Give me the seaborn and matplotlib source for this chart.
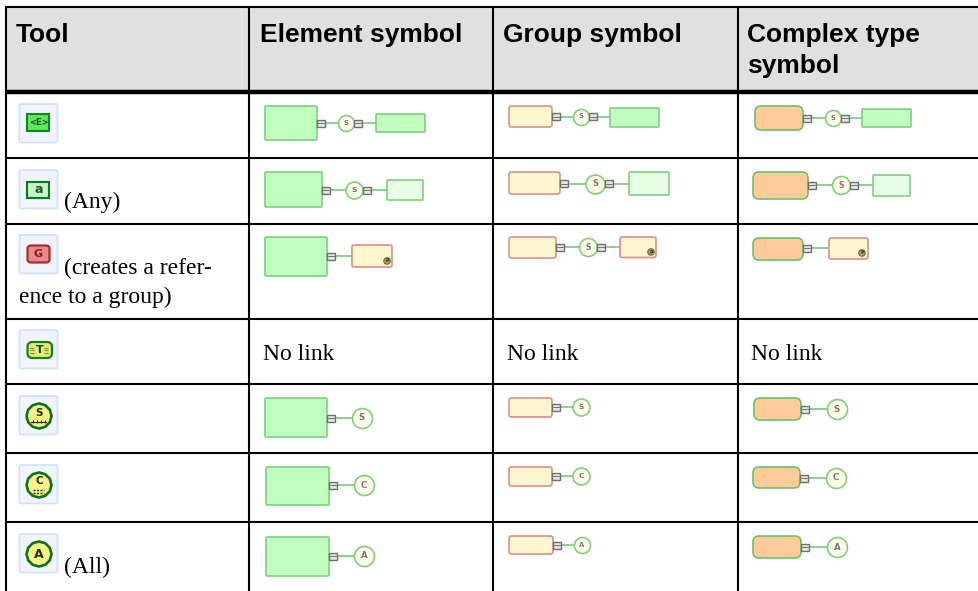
import matplotlib
matplotlib.use('Agg')
import matplotlib.pyplot as plt
from matplotlib.patches import FancyBboxPatch, Rectangle, RegularPolygon, Circle
import seaborn as sns

sns.set_theme(style='white')
plt.rcParams['font.family'] = ['Liberation Serif', 'DejaVu Sans']

# ----- table text -----
header_labels = ['Tool', 'Element symbol', 'Group symbol', 'Complex type\nsymbol']
tool_notes = ['', '(Any)', '(creates a refer-\nence to a group)', '', '', '', '(All)']
no_link_label = 'No link'

# ----- table grid -----
column_lines = [6, 249.5, 493.5, 738]
row_lines = [158, 223.5, 318.5, 384, 453, 522]
icon_tops = [104, 170, 235, 330, 396, 465, 534]

# ----- symbols: parent box, connector y, node, child box -----
# (x0, x1, y0, y1, conn_y, node_x, node_r, letter, child, dot)
element_symbols = [
    (265, 317, 106, 140, 123, 346, 8, 'S', (376, 425, 114, 132, 'solid'), None),
    (265, 322, 172, 207, 190, 354, 8.5, 'S', (387, 423, 180, 200, 'light'), None),
    (265, 327, 237, 276, 256, None, 0, '', (352, 392, 245, 267, 'group'), (387, 261)),
    None,
    (265, 327, 398, 437, 418, 362, 10, 'S', None, None),
    (266, 329, 467, 505, 485, 364, 10, 'C', None, None),
    (266, 329, 537, 576, 556, 364, 10, 'A', None, None),
]
group_symbols = [
    (509, 552, 106, 127, 116.5, 581, 8, 'S', (610, 659, 108, 127, 'solid'), None),
    (509, 560, 172, 194, 183.5, 595, 9.5, 'S', (629, 669, 172, 195, 'light'), None),
    (509, 556, 237, 258, 247, 588, 9, 'S', (620, 656, 237, 257.5, 'group'), (651, 252)),
    None,
    (509, 552, 398, 417, 407, 581, 8.5, 'S', None, None),
    (509, 552, 467, 486, 476, 581, 8.5, 'C', None, None),
    (509, 553, 536, 554, 545, 582, 8, 'A', None, None),
]
complex_symbols = [
    (755, 803, 106, 130, 118, 833, 8, 'S', (862, 911, 109, 127, 'solid'), None),
    (753, 808, 172, 199, 185, 841, 9, 'S', (873, 910, 175, 196, 'light'), None),
    (753, 803, 238, 260, 248, None, 0, '', (829, 868, 238, 259, 'group'), (862, 253)),
    None,
    (754, 801, 398, 420, 409, 837, 10, 'S', None, None),
    (753, 800, 467, 488, 478, 836, 10, 'C', None, None),
    (753, 801, 536, 558, 547, 837, 10, 'A', None, None),
]

GREEN_EDGE = '#7fd07f'
GREEN_FILL = '#c0ffc0'
LIGHT_FILL = '#e6ffe6'
RED_EDGE = '#dc8f88'
CREAM_FILL = '#fff7d0'
ORANGE_FILL = '#ffcc99'

fig = plt.figure(figsize=(9.79, 5.91), dpi=100)
ax = fig.add_axes([0, 0, 1, 1])
ax.set_xlim(0, 979)
ax.set_ylim(591, 0)
ax.axis('off')


def draw_box(x0, x1, y0, y1, face, edge, rounding=1.5, zorder=3):
    ax.add_patch(FancyBboxPatch((x0, y0), x1 - x0, y1 - y0,
                                boxstyle=f'round,pad=0,rounding_size={rounding}',
                                fc=face, ec=edge, lw=1.2, zorder=zorder))


def draw_square(cx, cy):
    ax.add_patch(Rectangle((cx - 4, cy - 3.5), 8, 7, fc='#e4e4e4', ec='#707070', lw=1.0, zorder=5))
    ax.plot([cx - 3, cx + 3], [cy, cy], color='#707070', lw=0.7, zorder=6)


def draw_symbol(sym, parent_face, parent_edge, rounding):
    if sym is None:
        return
    x0, x1, y0, y1, cy, nx, nr, letter, child, dot = sym
    end_x = child[0] if child else nx
    sns.lineplot(x=[x1, end_x], y=[cy, cy], color=GREEN_EDGE, lw=1.3, ax=ax,
                 estimator=None, sort=False, zorder=2, legend=False)
    draw_box(x0, x1, y0, y1, parent_face, parent_edge, rounding)
    draw_square(x1 + 4, cy)
    if nx is not None:
        # node size is in points squared, diameter comes from the pixel radius
        sns.scatterplot(x=[nx], y=[cy], s=(2 * nr * 0.72) ** 2, color='#fffbe8',
                        edgecolor=GREEN_EDGE, linewidth=1.2, ax=ax, zorder=4, legend=False)
        ax.text(nx, cy, letter, fontsize=nr * 0.62, family='DejaVu Sans', weight='bold',
                color='#777777', ha='center', va='center', zorder=6)
        if child:
            draw_square(nx + nr + 4.5, cy)
    if child:
        cx0, cx1, cy0, cy1, kind = child
        if kind == 'group':
            draw_box(cx0, cx1, cy0, cy1, CREAM_FILL, RED_EDGE, 2)
        else:
            draw_box(cx0, cx1, cy0, cy1, GREEN_FILL if kind == 'solid' else LIGHT_FILL, GREEN_EDGE, 0.8)
    if dot:
        ax.add_patch(Circle(dot, 3.2, fc='#b9a24a', ec='#6f6f50', lw=0.9, zorder=6))
        ax.text(dot[0], dot[1], 'P', fontsize=3.5, family='DejaVu Sans', weight='bold',
                color='#333333', ha='center', va='center', zorder=7)


# header band and grid
ax.add_patch(Rectangle((6, 7), 973, 83, fc='#e0e0e0', ec='none', zorder=0))
ax.hlines(7, 5, 979, color='black', lw=1.5, zorder=8)
ax.hlines(91.5, 5, 979, color='black', lw=3.2, zorder=8)
ax.hlines(row_lines, 5, 979, color='black', lw=1.5, zorder=8)
ax.vlines(column_lines, 6, 591, color='black', lw=1.5, zorder=8)

# header text
header_x = [16, 260, 503, 747]
for label, x in zip(header_labels, header_x):
    ax.text(x, 41.7, label.split('\n')[0], family='Liberation Sans', weight='bold',
            fontsize=19, color='black', va='baseline', zorder=9)
    if '\n' in label:
        ax.text(x, 73.5, label.split('\n')[1], family='Liberation Sans', weight='bold',
                fontsize=19, color='black', va='baseline', zorder=9)

# tool icon frames
for top in icon_tops:
    ax.add_patch(FancyBboxPatch((19.5, top), 38, 38.5, boxstyle='round,pad=0,rounding_size=1.5',
                                fc='#f1f5fb', ec='#cfe0fa', lw=1.2, zorder=2))

icon_cx = 38.5
icon_font = dict(family='DejaVu Sans', weight='bold', ha='center', va='center', zorder=5)
ICON_DARK = '#123a14'
# <E>
ax.add_patch(Rectangle((27.5, 114), 22, 16.5, fc='#5fe85f', ec='#0b8a1e', lw=1.5, zorder=4))
ax.text(icon_cx, 122.5, '<E>', fontsize=6, color='#0a4a14', **icon_font)
# a
ax.add_patch(Rectangle((27.5, 181.5), 22, 16.5, fc='#c8f5c8', ec='#0b7a1e', lw=1.5, zorder=4))
ax.text(icon_cx, 189.5, 'a', fontsize=9, color='#2a5a2a', **icon_font)
# G
ax.add_patch(FancyBboxPatch((27.5, 245.5), 22, 17, boxstyle='round,pad=0,rounding_size=3.5',
                            fc='#e88a88', ec='#a82c30', lw=1.6, zorder=4))
ax.text(icon_cx, 254, 'G', fontsize=8, color='#8a1a20', **icon_font)
# T
ax.add_patch(FancyBboxPatch((27.5, 342), 24.5, 16, boxstyle='round,pad=0,rounding_size=5',
                            fc='#e8e878', ec='#11801e', lw=1.6, zorder=4))
ax.text(icon_cx + 1, 350, 'T', fontsize=8, color='#0a4a14', **icon_font)
for side in [-1, 1]:
    ax.hlines([347.5, 350, 352.5], icon_cx + 1 + side * 5, icon_cx + 1 + side * 9,
              color='#5a9a3a', lw=0.8, zorder=5)
# S, C, A
for cy, letter, text_y in zip([416, 485, 554], ['S', 'C', 'A'], [412.5, 481, 554]):
    ax.add_patch(RegularPolygon((icon_cx + 0.5, cy), 12, radius=12.5, fc='#f8f088', ec='#11701e', lw=1.9, zorder=4))
    ax.text(icon_cx + 0.5, text_y, letter, fontsize=7.5 if letter != 'A' else 9, color=ICON_DARK, **icon_font)
ax.plot([31, 46], [421.5, 421.5], color=ICON_DARK, lw=0.8, zorder=5)
ax.vlines([33, 37, 41, 45], 420, 423, color=ICON_DARK, lw=0.8, zorder=5)
ax.hlines([489.5, 492.5], 33.5, 44, color=ICON_DARK, lw=1.0, linestyles=(0, (1.5, 1)), zorder=5)

# tool notes, first line sits next to the icon
note_first_y = [None, 208, 274, None, None, None, 573]
for note, y in zip(tool_notes, note_first_y):
    if not note:
        continue
    lines = note.split('\n')
    ax.text(64, y, lines[0], fontsize=17, color='black', va='baseline', zorder=9)
    if len(lines) > 1:
        ax.text(19, y + 29, lines[1], fontsize=17, color='black', va='baseline', zorder=9)

# no link cells
for x in [263, 507, 751]:
    ax.text(x, 360, no_link_label, fontsize=17, color='black', va='baseline', zorder=9)

# symbols per column
for sym in element_symbols:
    draw_symbol(sym, GREEN_FILL, GREEN_EDGE, 1.2)
for sym in group_symbols:
    draw_symbol(sym, CREAM_FILL, RED_EDGE, 2.5)
for sym in complex_symbols:
    draw_symbol(sym, ORANGE_FILL, '#6cc06c', 6)

ax.set_xlim(0, 979)
ax.set_ylim(591, 0)
ax.axis('off')
fig.savefig('out.png', dpi=100)
